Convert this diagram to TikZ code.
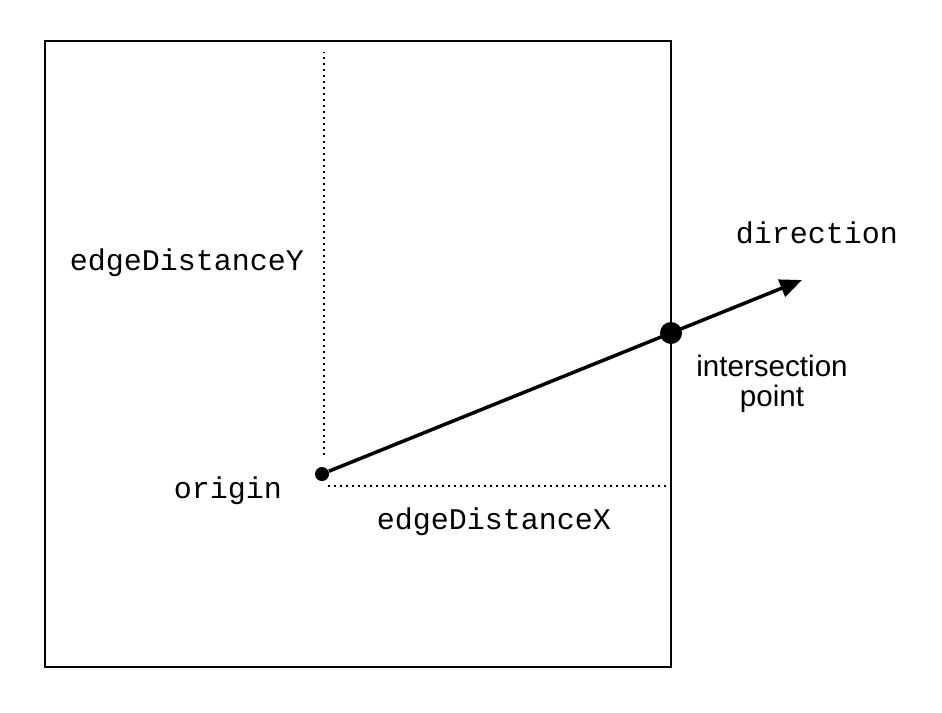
\documentclass[tikz,border=0pt]{standalone}
\usepackage{fontspec}
\setmainfont{Liberation Sans}
\setmonofont{Liberation Mono}
\usetikzlibrary{arrows.meta}
\tikzset{
  dotline/.style={line width=1pt, dash pattern=on 1pt off 2pt},
  codelabel/.style={font=\ttfamily\fontsize{15}{15}\selectfont, inner sep=0pt, anchor=base},
  textlabel/.style={font=\fontsize{14.8}{15}\selectfont, align=center, inner sep=0pt},
  bigdot/.style={circle, fill=black, inner sep=0pt, minimum size=#1}
}
\begin{document}
\begin{tikzpicture}[x=0.5pt, y=-0.5pt]
    \useasboundingbox (0,0) rectangle (942,712);

    % 1) The outer box
    \draw[line width=1pt] (45,41) rectangle (671,667);

    % 2) Points on the ray
    \node[bigdot=7pt] (origin) at (322,474) {};
    \coordinate (tip) at (802,280);

    % 3) Dotted distances to the edges
    \draw[dotline] (324,455) -- (324,52);
    \draw[dotline] (328,486) -- (666,486);

    % 4) The ray with its arrow
    \draw[line width=1.75pt, -{Triangle[length=11pt, width=9pt]}] (origin) -- (tip);
    \node[bigdot=11pt] (hit) at (671,333) {};

    % 5) Labels
    \node[codelabel] (ydist) at (187,270) {edgeDistanceY};
    \node[codelabel] (orig) at (228,498) {origin};
    \node[codelabel] (xdist) at (494,529) {edgeDistanceX};
    \node[codelabel] (dir) at (817,243) {direction};
    \node[textlabel] (hitlabel) at (772,384) {intersection\\point};
\end{tikzpicture}
\end{document}
